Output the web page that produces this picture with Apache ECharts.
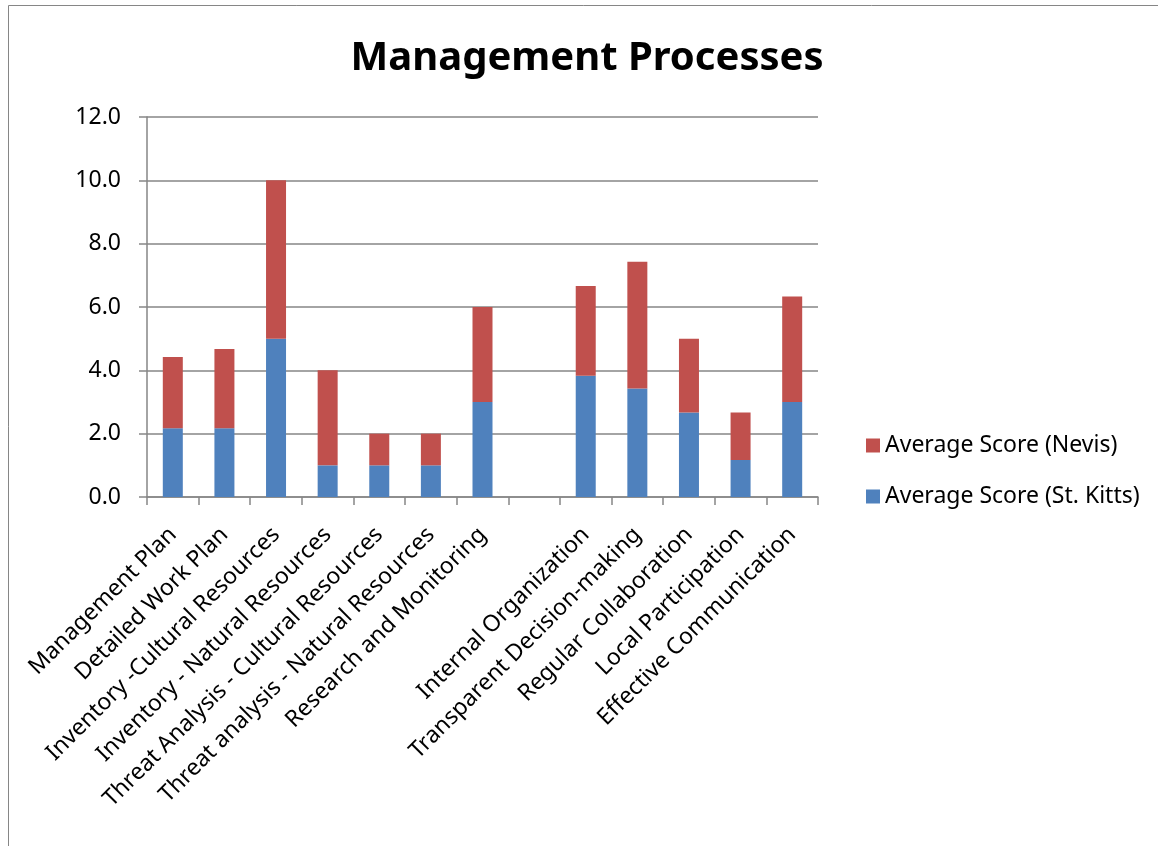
<!DOCTYPE html>
<html>
<head>
<meta charset="utf-8">
<script src="https://cdn.jsdelivr.net/npm/echarts@6/dist/echarts.min.js"></script>
<style>
html,body{margin:0;padding:0;background:#fff;}
#chart{width:1158px;height:846px;}
</style>
</head>
<body>
<div id="chart"></div>
<script>
const categories = [
  'Management Plan',
  'Detailed Work Plan',
  'Inventory -Cultural Resources',
  'Inventory - Natural Resources',
  'Threat Analysis - Cultural Resources',
  'Threat analysis - Natural Resources',
  'Research and Monitoring',
  '',
  'Internal Organization',
  'Transparent Decision-making',
  'Regular Collaboration',
  'Local Participation',
  'Effective Communication'
];
const stKitts = [2.17, 2.17, 5.0, 1.0, 1.0, 1.0, 3.0, null, 3.83, 3.43, 2.67, 1.17, 3.0];
const nevis   = [2.25, 2.5, 5.0, 3.0, 1.0, 1.0, 3.0, null, 2.83, 4.0, 2.33, 1.5, 3.33];
const yTicks = { min: 0, max: 12, interval: 2 };

const FONT = '"Noto Sans", sans-serif';
const chart = echarts.init(document.getElementById('chart'));
chart.setOption({
  animation: false,
  backgroundColor: '#fff',
  title: {
    text: 'Management Processes',
    left: 582, top: 34, textAlign: 'center',
    textStyle: { fontFamily: FONT, fontSize: 40, fontWeight: 'bold', color: '#000' }
  },
  graphic: [{
    type: 'rect', silent: true,
    shape: { x: 8.5, y: 5.5, width: 1200, height: 900 },
    style: { fill: 'none', stroke: '#868686', lineWidth: 1 }
  }],
  legend: {
    orient: 'vertical', left: 861, top: 429,
    itemWidth: 14, itemHeight: 14, itemGap: 28, icon: 'rect',
    data: ['Average Score (Nevis)', 'Average Score (St. Kitts)'],
    textStyle: { fontFamily: FONT, fontSize: 23, color: '#000', lineHeight: 23 }
  },
  grid: { left: 147, right: 340, top: 117, bottom: 349, containLabel: false },
  xAxis: {
    type: 'category', data: categories,
    axisLine: { lineStyle: { color: '#868686', width: 1.5 } },
    axisTick: { show: true, interval: 0, length: 8, lineStyle: { color: '#868686', width: 1.5 } },
    axisLabel: { interval: 0, rotate: 45, margin: 34, fontFamily: FONT, fontSize: 23, color: '#000' }
  },
  yAxis: {
    type: 'value', min: yTicks.min, max: yTicks.max, interval: yTicks.interval,
    axisLine: { show: true, lineStyle: { color: '#868686', width: 1.5 } },
    axisTick: { show: true, length: 8, lineStyle: { color: '#868686', width: 1.5 } },
    splitLine: { lineStyle: { color: '#868686', width: 1.5 } },
    axisLabel: { margin: 26, fontFamily: FONT, fontSize: 23, color: '#000', formatter: v => v.toFixed(1) }
  },
  series: [
    { name: 'Average Score (St. Kitts)', type: 'bar', stack: 's', data: stKitts, barWidth: 20,
      itemStyle: { color: '#4F81BD' } },
    { name: 'Average Score (Nevis)', type: 'bar', stack: 's', data: nevis, barWidth: 20,
      itemStyle: { color: '#C0504D' } }
  ]
});
</script>
</body>
</html>
